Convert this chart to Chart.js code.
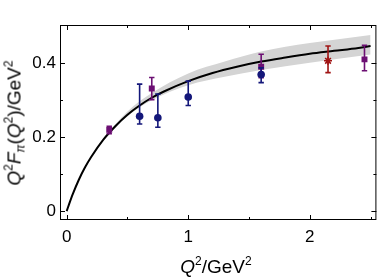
<!DOCTYPE html>
<html>
<head>
<meta charset="utf-8">
<script src="https://cdn.jsdelivr.net/npm/chart.js@4/dist/chart.umd.min.js"></script>
<style>
  html, body { margin: 0; padding: 0; background: #fff; }
  #wrap { position: relative; width: 382px; height: 279px; }
  canvas { display: block; }
  .axt { position: absolute; font-family: "Liberation Sans", Arial, sans-serif; font-size: 19px; color: #000; white-space: nowrap; line-height: 1; }
  .axt sup, .axt sub { font-size: 12px; }
  .axt sup { vertical-align: 8px; line-height: 0; }
  .axt sub { vertical-align: -4px; line-height: 0; }
  #xt { left: 216px; top: 257px; transform: translateX(-50%); }
  #yt { left: 14px; top: 123px; transform: translate(-50%, -50%) rotate(-90deg); }
</style>
</head>
<body>
<div id="wrap">
  <canvas id="c" width="382" height="279"></canvas>
  <div class="axt" id="xt"><i>Q</i><sup>2</sup>/GeV<sup>2</sup></div>
  <div class="axt" id="yt"><i>Q</i><sup>2</sup><i>F</i><sub><i>π</i></sub>(<i>Q</i><sup>2</sup>)/GeV<sup>2</sup></div>
</div>
<script>
// theory curve
const curveQ2 = [0, 0.02, 0.05, 0.1, 0.15, 0.2, 0.3, 0.4, 0.5, 0.6, 0.7, 0.8, 1.0, 1.2, 1.4, 1.6, 1.8, 2.0, 2.2, 2.4, 2.5];
const curveVal = [0, 0.019, 0.046, 0.085, 0.118, 0.146, 0.193, 0.230, 0.261, 0.286, 0.307, 0.324, 0.352, 0.374, 0.391, 0.405, 0.416, 0.426, 0.434, 0.442, 0.447];

// uncertainty band
const bandQ2 = [0.3, 0.5, 0.7, 1.0, 1.3, 1.6, 2.0, 2.5];
const bandUpper = [0.197, 0.270, 0.320, 0.373, 0.405, 0.432, 0.455, 0.477];
const bandLower = [0.190, 0.257, 0.300, 0.341, 0.364, 0.382, 0.402, 0.424];

// purple squares
const sqQ2 = [0.35, 0.70, 1.60, 2.45];
const sqVal = [0.220, 0.332, 0.391, 0.411];
const sqErrUp = [0.010, 0.030, 0.034, 0.038];
const sqErrDown = [0.010, 0.030, 0.030, 0.031];

// blue circles
const ciQ2 = [0.60, 0.75, 1.00, 1.60];
const ciVal = [0.257, 0.253, 0.309, 0.370];
const ciErrUp = [0.087, 0.064, 0.043, 0.018];
const ciErrDown = [0.021, 0.026, 0.023, 0.022];

// red star
const stQ2 = [2.15];
const stVal = [0.407];
const stErrUp = [0.040];
const stErrDown = [0.032];

const xTicks = [0, 1, 2];
const xTickLabels = ['0', '1', '2'];
const xMinor = [0.5, 1.5, 2.5];
const yTicks = [0, 0.2, 0.4];
const yTickLabels = ['0', '0.2', '0.4'];
const yMinor = [0.1, 0.3];

const PURPLE = '#6c0f73';
const NAVY = '#14177a';
const RED = '#a01414';

const pts = (xs, ys) => xs.map((x, i) => ({ x: x, y: ys[i] }));

const errorBars = {
  id: 'errorBars',
  beforeDatasetDraw(chart, args) {
    const ds = chart.data.datasets[args.index];
    if (!ds.errUp) return;
    const xs = chart.scales.x, ys = chart.scales.y, ctx = chart.ctx;
    ctx.save();
    ctx.strokeStyle = ds.borderColor;
    ctx.lineWidth = 1.6;
    ds.data.forEach((p, i) => {
      const px = xs.getPixelForValue(p.x);
      const top = ys.getPixelForValue(p.y + ds.errUp[i]);
      const bot = ys.getPixelForValue(p.y - ds.errDown[i]);
      ctx.beginPath();
      ctx.moveTo(px, top); ctx.lineTo(px, bot);
      ctx.moveTo(px - 2.7, top); ctx.lineTo(px + 2.7, top);
      ctx.moveTo(px - 2.7, bot); ctx.lineTo(px + 2.7, bot);
      ctx.stroke();
    });
    ctx.restore();
  }
};

const frame = {
  id: 'frame',
  afterDraw(chart) {
    const a = chart.chartArea, ctx = chart.ctx;
    const xs = chart.scales.x, ys = chart.scales.y;
    ctx.save();
    ctx.strokeStyle = '#000';
    ctx.lineWidth = 1;
    ctx.strokeRect(a.left + 0.5, a.top + 0.5, a.right - a.left - 1, a.bottom - a.top - 1);
    ctx.beginPath();
    const xt = (v, len) => {
      const p = Math.round(xs.getPixelForValue(v)) + 0.5;
      ctx.moveTo(p, a.bottom); ctx.lineTo(p, a.bottom - len);
      ctx.moveTo(p, a.top); ctx.lineTo(p, a.top + len);
    };
    const yt = (v, len) => {
      const p = Math.round(ys.getPixelForValue(v)) + 0.5;
      ctx.moveTo(a.left, p); ctx.lineTo(a.left + len, p);
      ctx.moveTo(a.right, p); ctx.lineTo(a.right - len, p);
    };
    xTicks.forEach(v => xt(v, 5));
    xMinor.forEach(v => xt(v, 3));
    yTicks.forEach(v => yt(v, 5));
    yMinor.forEach(v => yt(v, 3));
    ctx.stroke();
    ctx.restore();
  }
};

new Chart(document.getElementById('c'), {
  type: 'scatter',
  data: {
    datasets: [
      {
        label: 'band upper',
        data: pts(bandQ2, bandUpper),
        showLine: true,
        borderWidth: 0,
        borderColor: 'rgba(0,0,0,0)',
        backgroundColor: '#d4d4d4',
        pointRadius: 0,
        fill: '+1',
        cubicInterpolationMode: 'monotone',
        order: 5
      },
      {
        label: 'band lower',
        data: pts(bandQ2, bandLower),
        showLine: true,
        borderWidth: 0,
        borderColor: 'rgba(0,0,0,0)',
        pointRadius: 0,
        fill: false,
        cubicInterpolationMode: 'monotone',
        order: 5
      },
      {
        label: 'curve',
        data: pts(curveQ2, curveVal),
        showLine: true,
        borderColor: '#000',
        borderWidth: 2,
        pointRadius: 0,
        fill: false,
        cubicInterpolationMode: 'monotone',
        order: 4
      },
      {
        label: 'squares',
        data: pts(sqQ2, sqVal),
        errUp: sqErrUp, errDown: sqErrDown,
        pointStyle: 'rect',
        pointRadius: 4.2,
        borderWidth: 0,
        borderColor: PURPLE,
        backgroundColor: PURPLE,
        order: 2
      },
      {
        label: 'circles',
        data: pts(ciQ2, ciVal),
        errUp: ciErrUp, errDown: ciErrDown,
        pointStyle: 'circle',
        pointRadius: 3.8,
        borderWidth: 0,
        borderColor: NAVY,
        backgroundColor: NAVY,
        order: 1
      },
      {
        label: 'star',
        data: pts(stQ2, stVal),
        errUp: stErrUp, errDown: stErrDown,
        pointStyle: 'star',
        pointRadius: 4,
        borderWidth: 1.6,
        borderColor: RED,
        backgroundColor: RED,
        order: 3
      }
    ]
  },
  options: {
    responsive: false,
    animation: false,
    events: [],
    layout: { padding: { left: 0, right: 5, top: 25, bottom: 0 } },
    plugins: { legend: { display: false }, tooltip: { enabled: false } },
    scales: {
      x: {
        type: 'linear',
        min: -0.055,
        max: 2.548,
        grid: { display: false, drawTicks: false },
        border: { display: false },
        afterBuildTicks: s => { s.ticks = xTicks.map(v => ({ value: v })); },
        afterFit: s => { s.height = 59; },
        ticks: {
          padding: 7,
          color: '#000',
          font: { family: 'Liberation Sans', size: 17 },
          maxRotation: 0,
          callback: (v, i) => xTickLabels[i]
        }
      },
      y: {
        type: 'linear',
        min: -0.024,
        max: 0.504,
        grid: { display: false, drawTicks: false },
        border: { display: false },
        afterBuildTicks: s => { s.ticks = yTicks.map(v => ({ value: v })); },
        afterFit: s => { s.width = 60; },
        ticks: {
          padding: 4,
          color: '#000',
          font: { family: 'Liberation Sans', size: 17 },
          callback: (v, i) => yTickLabels[i]
        }
      }
    }
  },
  plugins: [errorBars, frame]
});
</script>
</body>
</html>
